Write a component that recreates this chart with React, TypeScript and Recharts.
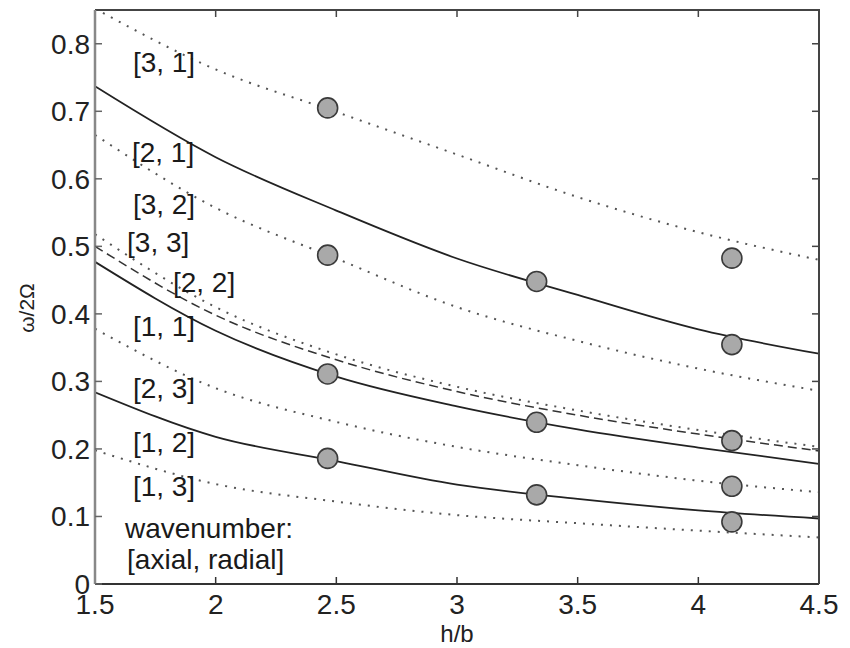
import {
  ComposedChart,
  Line,
  Scatter,
  XAxis,
  YAxis,
  ReferenceDot,
} from "recharts";

// h/b sample positions for the model curves
const hbGrid = [1.5, 2, 2.5, 3, 3.5, 4, 4.5];

// model curves, omega / 2 Omega, [axial, radial]
const mode31 = [0.852, 0.762, 0.699, 0.636, 0.573, 0.521, 0.48];
const mode21 = [0.737, 0.632, 0.553, 0.482, 0.428, 0.377, 0.341];
const mode32 = [0.665, 0.557, 0.482, 0.41, 0.36, 0.319, 0.286];
const mode33 = [0.518, 0.41, 0.34, 0.292, 0.257, 0.228, 0.203];
const mode22 = [0.5, 0.398, 0.332, 0.285, 0.25, 0.222, 0.197];
const mode11 = [0.477, 0.375, 0.307, 0.263, 0.229, 0.202, 0.178];
const mode23 = [0.378, 0.29, 0.24, 0.203, 0.176, 0.153, 0.136];
const mode12 = [0.284, 0.218, 0.182, 0.147, 0.126, 0.109, 0.097];
const mode13 = [0.198, 0.148, 0.122, 0.102, 0.09, 0.079, 0.069];

// measured frequencies
const measuredHb = [2.464, 2.464, 2.464, 2.464, 3.33, 3.33, 3.33, 4.139, 4.139, 4.139, 4.139, 4.139];
const measuredFreq = [0.705, 0.487, 0.311, 0.186, 0.448, 0.2395, 0.132, 0.4825, 0.3545, 0.2123, 0.1447, 0.092];

// curve labels: text, h/b of left edge, vertical centre
const labelText = ["[3, 1]", "[2, 1]", "[3, 2]", "[3, 3]", "[2, 2]", "[1, 1]", "[2, 3]", "[1, 2]", "[1, 3]", "wavenumber:", "[axial, radial]"];
const labelHb = [1.657, 1.653, 1.657, 1.633, 1.823, 1.657, 1.657, 1.657, 1.657, 1.624, 1.633];
const labelFreq = [0.772, 0.6385, 0.5615, 0.505, 0.446, 0.381, 0.289, 0.21, 0.144, 0.0815, 0.037];

const xTicks = [1.5, 2, 2.5, 3, 3.5, 4, 4.5];
const yTicks = [0, 0.1, 0.2, 0.3, 0.4, 0.5, 0.6, 0.7, 0.8];
const X_MIN = 1.5;
const X_MAX = 4.5;
const Y_MAX = 0.85;

const FONT = '"Liberation Sans", Arial, Helvetica, sans-serif';

const W = 842;
const H = 648;
const MARGIN = { top: 2, right: 31, bottom: 32, left: 0 };
const Y_AXIS_W = 87;
const X_AXIS_H = 40;
const PLOT_H = H - MARGIN.top - MARGIN.bottom - X_AXIS_H;

const toRows = (vals: number[]) => hbGrid.map((x, i) => ({ x, y: vals[i] }));
const measured = measuredHb.map((x, i) => ({ x, y: measuredFreq[i] }));

const SOLID = { stroke: "#222", strokeWidth: 1.8 };
const DOTTED = { stroke: "#555", strokeWidth: 2, strokeDasharray: "2 7" };
const DASHED = { stroke: "#333", strokeWidth: 1.5, strokeDasharray: "9 5" };

const curves = [
  { key: "m31", vals: mode31, style: DOTTED },
  { key: "m21", vals: mode21, style: SOLID },
  { key: "m32", vals: mode32, style: DOTTED },
  { key: "m33", vals: mode33, style: DOTTED },
  { key: "m22", vals: mode22, style: DASHED },
  { key: "m11", vals: mode11, style: SOLID },
  { key: "m23", vals: mode23, style: DOTTED },
  { key: "m12", vals: mode12, style: SOLID },
  { key: "m13", vals: mode13, style: DOTTED },
];

const tickStyle = { fill: "#222", fontSize: 28, fontFamily: FONT };
const FRAME = "#444";

// x-axis title plus the top / right edges of the box, drawn from the axis viewBox
function XTitleAndFrame({ viewBox }: any) {
  const left = viewBox.x;
  const right = viewBox.x + viewBox.width;
  const bottom = viewBox.y;
  const top = bottom - PLOT_H;
  const px = (v: number) => left + ((v - X_MIN) / (X_MAX - X_MIN)) * viewBox.width;
  const py = (v: number) => bottom - (v / Y_MAX) * PLOT_H;
  return (
    <g>
      <line x1={left} y1={top} x2={right + 1} y2={top} stroke={FRAME} strokeWidth={2} />
      <line x1={right} y1={top} x2={right} y2={bottom} stroke={FRAME} strokeWidth={2} />
      {xTicks.slice(1, -1).map((t) => (
        <line key={`t${t}`} x1={px(t)} y1={top} x2={px(t)} y2={top + 7} stroke={FRAME} strokeWidth={1.5} />
      ))}
      {yTicks.slice(1).map((t) => (
        <line key={`r${t}`} x1={right - 7} y1={py(t)} x2={right} y2={py(t)} stroke={FRAME} strokeWidth={1.5} />
      ))}
      <text
        x={left + viewBox.width / 2}
        y={bottom + 49}
        textAnchor="middle"
        dominantBaseline="central"
        fontSize={24}
        fontFamily={FONT}
        fill="#222"
      >
        h/b
      </text>
    </g>
  );
}

export default function App() {
  return (
    <ComposedChart width={W} height={H} margin={MARGIN} style={{ fontFamily: FONT }}>
      <XAxis
        dataKey="x"
        type="number"
        domain={[X_MIN, X_MAX]}
        ticks={xTicks}
        allowDataOverflow
        height={X_AXIS_H}
        tickSize={-7}
        tickMargin={17}
        tick={tickStyle}
        axisLine={{ stroke: "#333", strokeWidth: 2 }}
        tickLine={{ stroke: "#333", strokeWidth: 1.5 }}
        label={{ content: (p: any) => <XTitleAndFrame viewBox={p.viewBox} /> }}
      />
      <YAxis
        type="number"
        domain={[0, Y_MAX]}
        ticks={yTicks}
        allowDataOverflow
        width={Y_AXIS_W}
        tickSize={-7}
        tickMargin={12}
        tick={tickStyle}
        axisLine={{ stroke: "#888", strokeWidth: 2.5 }}
        tickLine={{ stroke: "#666", strokeWidth: 1.5 }}
        label={{
          content: ({ viewBox }: any) => {
            const cx = viewBox.x + 18;
            const cy = viewBox.y + viewBox.height / 2 + 11;
            return (
              <text
                x={cx}
                y={cy}
                transform={`rotate(-90, ${cx}, ${cy})`}
                textAnchor="middle"
                dominantBaseline="central"
                fontSize={21}
                fontFamily={FONT}
                fill="#222"
              >
                ω/2Ω
              </text>
            );
          },
        }}
      />

      {curves.map((c) => (
        <Line
          key={c.key}
          data={toRows(c.vals)}
          dataKey="y"
          type="monotone"
          dot={false}
          activeDot={false}
          isAnimationActive={false}
          {...c.style}
        />
      ))}

      <Scatter
        data={measured}
        dataKey="y"
        isAnimationActive={false}
        shape={(p: any) => (
          <circle cx={p.cx} cy={p.cy} r={10} fill="#a9a9a9" stroke="#3a3a3a" strokeWidth={1.6} />
        )}
      />

      {labelText.map((t, i) => (
        <ReferenceDot
          key={t}
          x={labelHb[i]}
          y={labelFreq[i]}
          r={0}
          shape={(p: any) => (
            <text
              x={p.cx}
              y={p.cy}
              dominantBaseline="central"
              fontSize={28}
              fontFamily={FONT}
              fill="#1a1a1a"
            >
              {t}
            </text>
          )}
        />
      ))}
    </ComposedChart>
  );
}
